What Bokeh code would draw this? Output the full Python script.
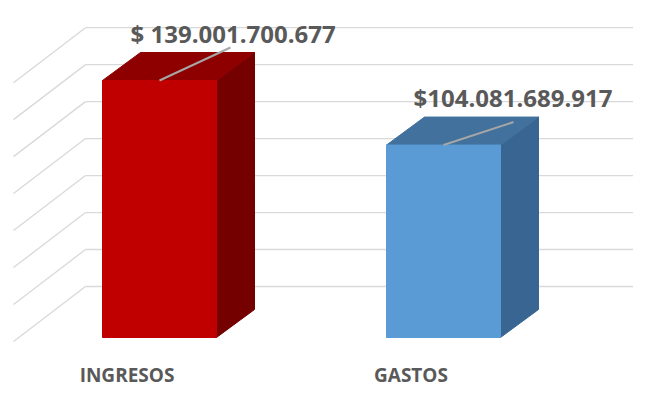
from bokeh.plotting import figure
from bokeh.models import Range1d, ColumnDataSource
from bokeh.core.properties import value
from bokeh.embed import file_html
from bokeh.resources import INLINE

# ---- data ----
categories = ["INGRESOS", "GASTOS"]
values_b = [139.001700677, 104.081689917]          # billions of pesos
value_labels = ["$ 139.001.700.677", "$104.081.689.917"]
grid_values = [0, 20, 40, 60, 80, 100, 120, 140]
front_colors = ["#C00000", "#5B9BD5"]
top_colors = ["#8E0000", "#41719C"]
side_colors = ["#740000", "#386592"]

# ---- style / projection constants ----
PX_X = 284.0            # pixels per category unit
PX_Y = 257.0 / 139.0017 # pixels per billion
W, H = 633, 388
half_w = 57 / PX_X
bar_dx = 38 / PX_X
bar_dy = 28 / PX_Y
wall_dy = 51 / PX_Y     # back wall vertical offset from front floor
side_dx = 72 / PX_X
side_dy = 55 / PX_Y

p = figure(width=W, height=H, output_backend="svg", toolbar_location=None,
           x_range=Range1d(1 - 159 / PX_X, 1 + (W - 159) / PX_X),
           y_range=Range1d(-(H - 337) / PX_Y, 337 / PX_Y),
           min_border=0, outline_line_color=None)
p.axis.visible = False
p.grid.visible = False
p.background_fill_color = "white"

xs_cat = [i + 1 for i in range(len(categories))]
back_left = 1 + (85 - 159) / PX_X
back_right = 1 + (645 - 159) / PX_X

# back wall gridlines and side wall diagonals
for g in grid_values:
    yb = g + wall_dy
    p.line([back_left, back_right], [yb, yb], line_color="#D9D9D9", line_width=1.3)
    p.line([back_left, back_left - side_dx], [yb, yb - side_dy], line_color="#D9D9D9", line_width=1.3)

# bars
for x, v, fc, tc, sc in zip(xs_cat, values_b, front_colors, top_colors, side_colors):
    l, r = x - half_w, x + half_w
    p.patch([r, r, r + bar_dx, r + bar_dx], [0, v, v + bar_dy, bar_dy], fill_color=sc, line_color=sc)
    p.patch([l, l + bar_dx, r + bar_dx, r], [v, v + bar_dy, v + bar_dy, v], fill_color=tc, line_color=tc)
    p.quad(left=l, right=r, bottom=0, top=v, fill_color=fc, line_color=fc)

# leader lines
lead_dx = [71 / PX_X, 70 / PX_X]
lead_dy = [33 / PX_Y, 23 / PX_Y]
for x, v, ldx, ldy in zip(xs_cat, values_b, lead_dx, lead_dy):
    p.line([x, x + ldx], [v, v + ldy], line_color="#A6A6A6", line_width=2)

# value labels
lab_x = [x + off for x, off in zip(xs_cat, [(130 - 159) / PX_X, (413 - 443) / PX_X])]
lab_y = [v + off for v, off in zip(values_b, [(80 - 33) / PX_Y, (145 - 97) / PX_Y])]
src = ColumnDataSource(dict(x=lab_x, y=lab_y, t=value_labels))
p.text(x="x", y="y", text="t", source=src, text_font=value("Open Sans"),
       text_font_style="bold", text_font_size="24px", text_color="#595959",
       text_baseline="alphabetic", text_align="left")

# category labels
cat_x = [x + (126.5 - 159) / PX_X for x in xs_cat]
cat_y = [-(374 - 337) / PX_Y] * len(categories)
src2 = ColumnDataSource(dict(x=cat_x, y=cat_y, t=categories))
p.text(x="x", y="y", text="t", source=src2, text_font=value("Open Sans"),
       text_font_style="bold", text_font_size="19px", text_color="#595959",
       text_baseline="alphabetic", text_align="center")

open("out.html", "w").write(file_html(p, INLINE))
